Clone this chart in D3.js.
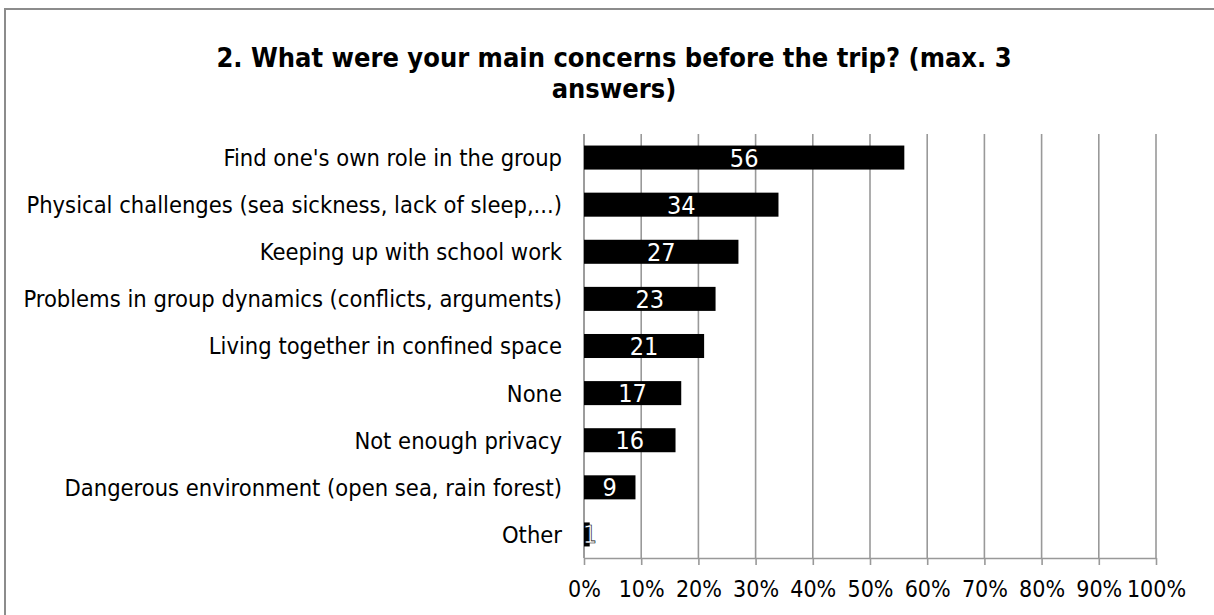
<!DOCTYPE html>
<html>
<head>
<meta charset="utf-8">
<script src="https://cdn.jsdelivr.net/npm/d3@7"></script>
<style>
  html, body { margin: 0; padding: 0; background: #fff; }
  svg { display: block; }
  text { font-family: "DejaVu Sans Condensed", "DejaVu Sans", sans-serif; font-stretch: condensed; }
</style>
</head>
<body>
<svg id="chart" width="1214" height="615"></svg>
<script>
// Survey answers, in display order (top to bottom)
const categories = [
  "Find one's own role in the group",
  "Physical challenges (sea sickness, lack of sleep,...)",
  "Keeping up with school work",
  "Problems in group dynamics (conflicts, arguments)",
  "Living together in confined space",
  "None",
  "Not enough privacy",
  "Dangerous environment (open sea, rain forest)",
  "Other"
];
const values = [56, 34, 27, 23, 21, 17, 16, 9, 1];
const tickValues = [0, 10, 20, 30, 40, 50, 60, 70, 80, 90, 100];
const titleLines = ["2. What were your main concerns before the trip? (max. 3", "answers)"];

const svg = d3.select("#chart");
const W = 1214, H = 615;
const plot = { left: 584, right: 1156, top: 134, bottom: 558 };
const gridColor = "#999999";

// Chart frame
svg.append("rect")
  .attr("x", 5).attr("y", 9)
  .attr("width", W + 10).attr("height", H + 10)
  .attr("fill", "#fff").attr("stroke", "#8c8c8c").attr("stroke-width", 2);

// Title
svg.append("g").selectAll("text")
  .data(titleLines)
  .join("text")
  .attr("x", 614)
  .attr("y", (d, i) => 67 + i * 31)
  .attr("text-anchor", "middle")
  .attr("font-size", 27)
  .attr("font-weight", "bold")
  .attr("fill", "#000")
  .text(d => d);

const x = d3.scaleLinear().domain([0, 100]).range([plot.left, plot.right]);
const y = d3.scaleBand().domain(categories).range([plot.top, plot.bottom])
  .paddingInner(0.49).paddingOuter(0.245);

// Vertical gridlines
svg.append("g").selectAll("line")
  .data(tickValues)
  .join("line")
  .attr("x1", d => x(d)).attr("x2", d => x(d))
  .attr("y1", plot.top).attr("y2", plot.bottom)
  .attr("stroke", gridColor).attr("stroke-width", 1.6);

// Bottom axis with percent labels
const xAxis = d3.axisBottom(x)
  .tickValues(tickValues)
  .tickFormat(d => d + "%")
  .tickSize(7)
  .tickSizeOuter(0)
  .tickPadding(16);
const gx = svg.append("g")
  .attr("transform", `translate(0,${plot.bottom})`)
  .call(xAxis);
gx.select(".domain").attr("stroke", gridColor).attr("stroke-width", 1.6);
gx.selectAll(".tick line").attr("stroke", gridColor).attr("stroke-width", 1.6);
gx.selectAll(".tick text")
  .attr("font-size", 23)
  .attr("fill", "#000")
  .attr("font-family", "\"DejaVu Sans Condensed\", \"DejaVu Sans\", sans-serif");

// Left axis line
svg.append("line")
  .attr("x1", plot.left).attr("x2", plot.left)
  .attr("y1", plot.top).attr("y2", plot.bottom)
  .attr("stroke", gridColor).attr("stroke-width", 1.6);

// Bars
svg.append("g").selectAll("rect")
  .data(categories)
  .join("rect")
  .attr("x", plot.left)
  .attr("y", d => y(d))
  .attr("width", (d, i) => x(values[i]) - plot.left)
  .attr("height", y.bandwidth())
  .attr("fill", "#000");

// Category labels
svg.append("g").selectAll("text")
  .data(categories)
  .join("text")
  .attr("x", 562)
  .attr("y", d => y(d) + y.bandwidth() / 2)
  .attr("dy", "0.36em")
  .attr("text-anchor", "end")
  .attr("font-size", 23.5)
  .attr("fill", "#000")
  .text(d => d);

// Value labels inside bars
svg.append("g").selectAll("text")
  .data(categories)
  .join("text")
  .attr("x", (d, i) => (plot.left + x(values[i])) / 2 + (values[i] < 3 ? 3 : 0))
  .attr("y", d => y(d) + y.bandwidth() / 2)
  .attr("dy", "0.36em")
  .attr("text-anchor", "middle")
  .attr("font-size", 25)
  .attr("fill", "#fff")
  .attr("stroke", (d, i) => values[i] < 3 ? "#000" : "none")
  .attr("stroke-width", 0.6)
  .text((d, i) => values[i]);
</script>
</body>
</html>
